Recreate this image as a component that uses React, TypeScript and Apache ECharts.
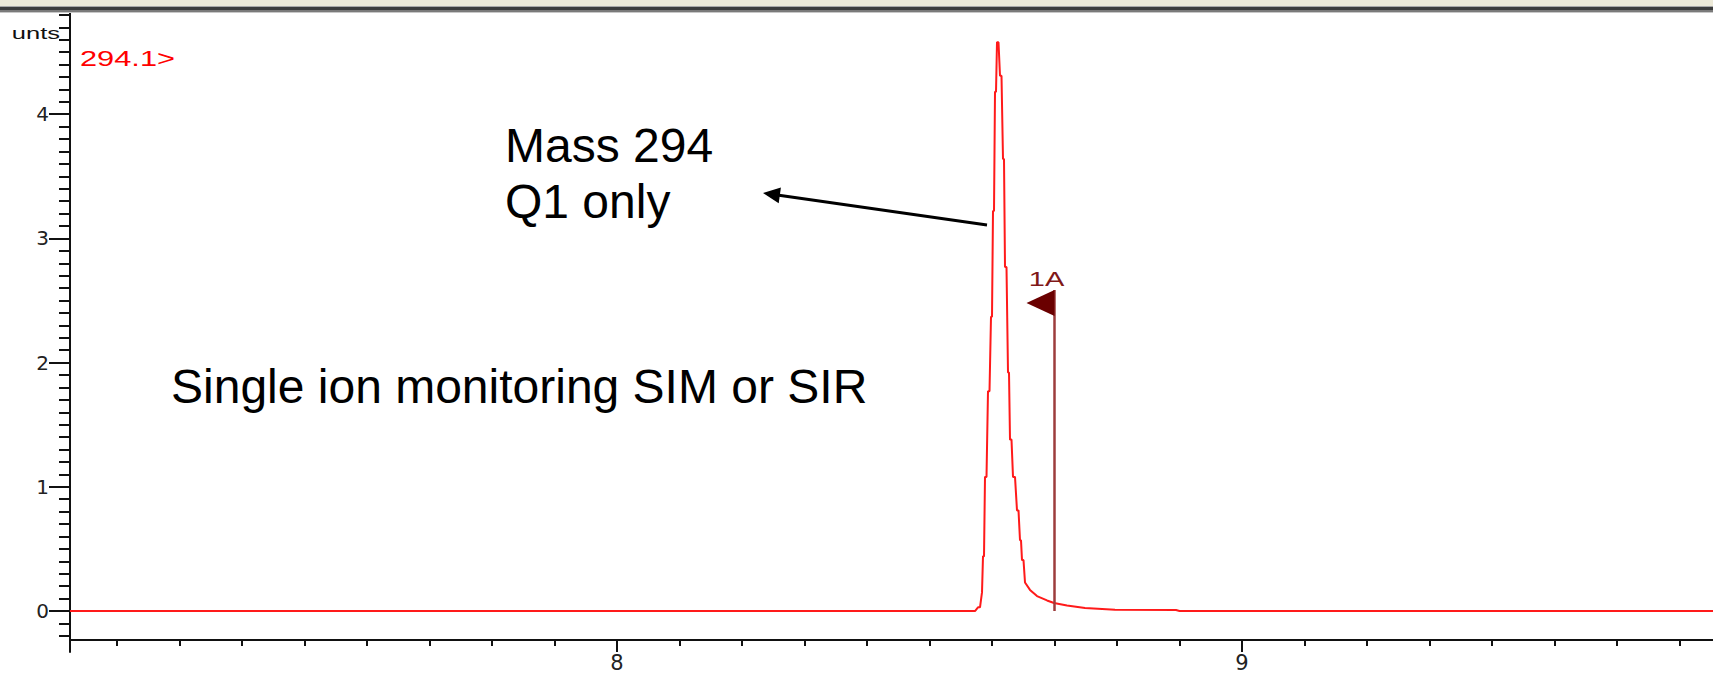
import React, { useEffect, useRef } from 'react';
import * as echarts from 'echarts';

// Chromatogram trace (time in minutes, counts)
const times = [7.1248, 8.5728, 8.5776, 8.5808, 8.584, 8.5856, 8.5872, 8.5888, 8.5912, 8.5936, 8.596, 8.5984, 8.6, 8.6016, 8.6032, 8.6048, 8.6064, 8.608, 8.6104, 8.6128, 8.6152, 8.6176, 8.6192, 8.6208, 8.6232, 8.6256, 8.6272, 8.6288, 8.6312, 8.6336, 8.6368, 8.64, 8.6424, 8.6448, 8.6464, 8.648, 8.6504, 8.6528, 8.6608, 8.672, 8.688, 8.6992, 8.72, 8.7488, 8.7968, 8.8944, 8.9, 9.7536];
const counts = [0, 0, 0.03, 0.03, 0.15, 0.44, 0.44, 1.08, 1.08, 1.77, 1.77, 2.37, 2.37, 3.22, 3.22, 4.18, 4.18, 4.58, 4.58, 4.31, 4.31, 3.64, 3.64, 2.77, 2.77, 1.92, 1.92, 1.38, 1.38, 1.08, 1.08, 0.81, 0.81, 0.57, 0.57, 0.41, 0.41, 0.23, 0.17, 0.12, 0.085, 0.065, 0.045, 0.024, 0.01, 0.008, 0, 0];

// Peak marker "1A"
const markerTime = 8.7;
const markerTop = 2.585;
const flagLevel = 2.48;
const markerLabel = '1A';

// Axes
const xMin = 7.1248;
const xMax = 9.7536;
const yMin = -0.33;
const yMax = 4.815;
const xMajorTicks = [8, 9];
const xMinorTicks = [7.2, 7.3, 7.4, 7.5, 7.6, 7.7, 7.8, 7.9, 8.0, 8.1, 8.2, 8.3, 8.4, 8.5, 8.6, 8.7, 8.8, 8.9, 9.0, 9.1, 9.2, 9.3, 9.4, 9.5, 9.6, 9.7];
const yMajorTicks = [0, 1, 2, 3, 4];
const yMinorTicks = [-0.2, -0.1, 0, 0.1, 0.2, 0.3, 0.4, 0.5, 0.6, 0.7, 0.8, 0.9, 1.0, 1.1, 1.2, 1.3, 1.4, 1.5, 1.6, 1.7, 1.8, 1.9, 2.0, 2.1, 2.2, 2.3, 2.4, 2.5, 2.6, 2.7, 2.8, 2.9, 3.0, 3.1, 3.2, 3.3, 3.4, 3.5, 3.6, 3.7, 3.8, 3.9, 4.0, 4.1, 4.2, 4.3, 4.4, 4.5, 4.6, 4.7, 4.8];

const yAxisName = 'unts';
const traceName = '294.1>';
const noteMass = ['Mass 294', 'Q1 only'];
const noteMode = 'Single ion monitoring SIM or SIR';

export default function App() {
  const ref = useRef<HTMLDivElement>(null);

  useEffect(() => {
    if (!ref.current) return;
    const chart = echarts.init(ref.current, null, { renderer: 'svg' });
    const trace = times.map((t, i) => [t, counts[i]]);
    const axisColor = '#111';

    const baseGraphic: any[] = [
      { type: 'rect', shape: { x: 0, y: 0, width: 1713, height: 6 }, style: { fill: '#ece9d8' }, z: 100 },
      { type: 'rect', shape: { x: 0, y: 6, width: 1713, height: 1 }, style: { fill: '#a8a8a8' }, z: 100 },
      { type: 'rect', shape: { x: 0, y: 7, width: 1713, height: 3 }, style: { fill: '#3c3c3c' }, z: 100 },
      { type: 'rect', shape: { x: 0, y: 10, width: 1713, height: 2 }, style: { fill: '#7a7a7a' }, z: 100 },
      { type: 'rect', shape: { x: 0, y: 12, width: 1713, height: 1 }, style: { fill: '#c8c8c8' }, z: 100 },
      {
        type: 'text', x: 60, y: 33, scaleX: 1.5, z: 100,
        style: { text: yAxisName, fontSize: 17, fontFamily: 'Arial, Liberation Sans', fill: '#111', align: 'right', verticalAlign: 'middle' },
      },
      {
        type: 'text', x: 80, y: 59, scaleX: 1.4, z: 100,
        style: { text: traceName, fontSize: 22, fontFamily: 'Arial, Liberation Sans', fill: '#ff0000', align: 'left', verticalAlign: 'middle' },
      },
      {
        type: 'text', x: 505, y: 145, z: 100,
        style: { text: noteMass[0], fontSize: 48, fontFamily: 'Arial, Liberation Sans', fill: '#000', align: 'left', verticalAlign: 'middle' },
      },
      {
        type: 'text', x: 505, y: 201, z: 100,
        style: { text: noteMass[1], fontSize: 48, fontFamily: 'Arial, Liberation Sans', fill: '#000', align: 'left', verticalAlign: 'middle' },
      },
      {
        type: 'text', x: 171, y: 386, z: 100,
        style: { text: noteMode, fontSize: 48, fontFamily: 'Arial, Liberation Sans', fill: '#000', align: 'left', verticalAlign: 'middle' },
      },
      {
        type: 'line', z: 100,
        shape: { x1: 987, y1: 225, x2: 779, y2: 195.3 },
        style: { stroke: '#000', lineWidth: 3 },
      },
      {
        type: 'polygon', z: 100,
        shape: { points: [[763, 193], [780.9, 187.5], [778.7, 203.3]] },
        style: { fill: '#000' },
      },
    ];

    const option: any = {
      animation: false,
      backgroundColor: '#fff',
      grid: { left: 70, right: 0, top: 13, bottom: 21, containLabel: false },
      xAxis: [
        {
          type: 'value', min: xMin, max: xMax, position: 'bottom', offset: -12,
          axisLine: { show: true, onZero: false, lineStyle: { color: axisColor, width: 2 } },
          axisTick: { show: true, customValues: xMajorTicks, length: 12, lineStyle: { color: axisColor, width: 2 } },
          axisLabel: { show: true, customValues: xMajorTicks, margin: 12, fontSize: 21, color: '#222', fontFamily: 'DejaVu Sans' },
          splitLine: { show: false },
        },
        {
          type: 'value', min: xMin, max: xMax, position: 'bottom', offset: -12,
          axisLine: { show: false, onZero: false },
          axisTick: { show: true, customValues: xMinorTicks, length: 6, lineStyle: { color: axisColor, width: 2 } },
          axisLabel: { show: false },
          splitLine: { show: false },
        },
      ],
      yAxis: [
        {
          type: 'value', min: yMin, max: yMax, position: 'left',
          axisLine: { show: true, onZero: false, lineStyle: { color: axisColor, width: 2 } },
          axisTick: { show: true, customValues: yMajorTicks, length: 21, lineStyle: { color: axisColor, width: 2 } },
          axisLabel: { show: true, customValues: yMajorTicks, margin: 21, fontSize: 20, color: '#222', fontFamily: 'DejaVu Sans' },
          splitLine: { show: false },
        },
        {
          type: 'value', min: yMin, max: yMax, position: 'left',
          axisLine: { show: false, onZero: false },
          axisTick: { show: true, customValues: yMinorTicks, length: 11, lineStyle: { color: axisColor, width: 2 } },
          axisLabel: { show: false },
          splitLine: { show: false },
        },
      ],
      series: [
        {
          type: 'line', name: traceName, data: trace, symbol: 'none',
          xAxisIndex: 0, yAxisIndex: 0,
          lineStyle: { color: '#ff1a1a', width: 2 }, z: 3,
        },
        {
          type: 'line', data: [[markerTime, 0], [markerTime, markerTop]], symbol: 'none',
          xAxisIndex: 0, yAxisIndex: 0,
          lineStyle: { color: '#9c3c3c', width: 2.5 }, z: 4,
        },
        {
          type: 'scatter', data: [[markerTime, flagLevel]],
          xAxisIndex: 0, yAxisIndex: 0,
          symbol: 'path://M28,0 L28,26 L0,13 Z', symbolSize: [28, 26], symbolOffset: [-14, 0],
          itemStyle: { color: '#6a0000', opacity: 1 }, z: 5,
        },
      ],
      graphic: baseGraphic,
    };
    chart.setOption(option);

    const p = chart.convertToPixel({ xAxisIndex: 0, yAxisIndex: 0 }, [markerTime, markerTop]) as number[];
    chart.setOption({
      graphic: [
        ...baseGraphic,
        {
          type: 'text', x: p[0] - 8, y: p[1] - 11, scaleX: 1.45, z: 100,
          style: { text: markerLabel, fontSize: 20, fontFamily: 'Arial, Liberation Sans', fill: '#801818', align: 'center', verticalAlign: 'middle' },
        },
      ],
    });

    return () => chart.dispose();
  }, []);

  return (
    <div
      ref={ref}
      style={{ position: 'absolute', left: 0, top: 0, width: 1713, height: 673 }}
    />
  );
}
